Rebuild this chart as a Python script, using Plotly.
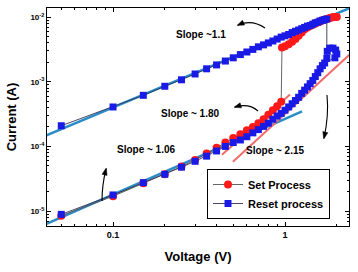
import numpy as np
import plotly.graph_objects as go

# ---------------- data ----------------
# Set process (red circles): voltage (V) and log10(current / A)
set_voltage = [0.05, 0.10, 0.15, 0.20, 0.25, 0.30, 0.35, 0.40, 0.45, 0.50,
               0.55, 0.60, 0.65, 0.70, 0.75, 0.80, 0.85, 0.90, 0.95,
               0.96, 1.00, 1.05, 1.10, 1.15, 1.20, 1.25, 1.30, 1.35, 1.40,
               1.45, 1.50, 1.55, 1.60, 1.65, 1.70, 1.75, 1.80, 1.85, 1.90,
               1.95, 2.00]
set_log_current = [-5.07, -4.77, -4.57, -4.43, -4.31, -4.21, -4.11, -4.02, -3.94, -3.87,
                   -3.81, -3.75, -3.70, -3.64, -3.58, -3.51, -3.44, -3.38, -3.31,
                   -2.47, -2.45, -2.42, -2.38, -2.34, -2.29, -2.24, -2.19, -2.16, -2.14,
                   -2.12, -2.10, -2.08, -2.07, -2.05, -2.04, -2.03, -2.02, -2.01, -2.00,
                   -2.00, -2.00]

# Reset process (blue squares)
reset_voltage = [0.05, 0.10, 0.15, 0.20, 0.25, 0.30, 0.35, 0.40, 0.45, 0.50,
                 0.55, 0.60, 0.65, 0.70, 0.75, 0.80, 0.85, 0.90, 0.95, 1.00,
                 1.05, 1.10, 1.15, 1.20, 1.25, 1.30, 1.35, 1.40, 1.45, 1.50,
                 1.55, 1.60, 1.65, 1.70, 1.75,
                 1.75, 1.76, 1.82, 1.90, 1.97, 2.00, 1.95,
                 1.70, 1.65, 1.60, 1.55, 1.50, 1.45, 1.40, 1.35, 1.30, 1.25,
                 1.20, 1.15, 1.10, 1.05, 1.00, 0.95, 0.90, 0.85, 0.80, 0.75,
                 0.70, 0.65, 0.60, 0.55, 0.50, 0.45, 0.40, 0.35, 0.30, 0.25,
                 0.20, 0.15, 0.10, 0.05]
reset_log_current = [-3.68, -3.39, -3.21, -3.07, -2.97, -2.88, -2.80, -2.74, -2.68, -2.63,
                     -2.58, -2.54, -2.50, -2.46, -2.43, -2.40, -2.37, -2.34, -2.31, -2.29,
                     -2.27, -2.24, -2.22, -2.20, -2.18, -2.16, -2.14, -2.13, -2.11, -2.09,
                     -2.08, -2.06, -2.05, -2.04, -2.03,
                     -2.64, -2.53, -2.48, -2.48, -2.51, -2.57, -2.63,
                     -2.71, -2.75, -2.80, -2.86, -2.92, -2.98, -3.03, -3.08, -3.13, -3.18,
                     -3.24, -3.29, -3.34, -3.39, -3.44, -3.49, -3.53, -3.58, -3.64, -3.69,
                     -3.74, -3.79, -3.85, -3.90, -3.94, -4.00, -4.07, -4.15, -4.23, -4.32,
                     -4.43, -4.56, -4.75, -5.05]

# Fitted power-law guide lines: start voltage, end voltage, log10(I) at start, slope as drawn
fit_names = ["upper", "lower", "set", "reset"]
fit_v_start = [0.040, 0.040, 0.430, 0.498]
fit_v_end = [2.70, 1.256, 1.069, 2.70]
fit_log_i_start = [-3.84, -5.21, -4.128, -4.236]
fit_slope = [1.115, 1.17, 2.35, 2.44]
fit_color = ["#2a8dc8", "#2a8dc8", "#f26a6a", "#f26a6a"]
fit_width = [2.6, 2.6, 2.0, 2.0]

x_ticks = [0.1, 1]
x_ticktext = ["0.1", "1"]
y_ticks = [1e-5, 1e-4, 1e-3, 1e-2]
y_ticktext = ["10<sup>-5</sup>", "10<sup>-4</sup>", "10<sup>-3</sup>", "10<sup>-2</sup>"]

# ---------------- figure ----------------
FONT = "Liberation Sans, Arial, sans-serif"
fig = go.Figure()

for i in range(len(fit_names)):
    v = np.array([fit_v_start[i], fit_v_end[i]])
    logi = fit_log_i_start[i] + fit_slope[i] * (np.log10(v) - np.log10(fit_v_start[i]))
    fig.add_trace(go.Scatter(x=v, y=np.power(10.0, logi), mode="lines",
                             line=dict(color=fit_color[i], width=fit_width[i]),
                             showlegend=False, hoverinfo="skip"))

fig.add_trace(go.Scatter(
    x=set_voltage, y=np.power(10.0, set_log_current), mode="lines+markers",
    name="Set Process",
    line=dict(color="#555555", width=0.9),
    marker=dict(symbol="circle", size=8, color="#ff1a1a", line=dict(width=0))))
fig.add_trace(go.Scatter(
    x=reset_voltage, y=np.power(10.0, reset_log_current), mode="lines+markers",
    name="Reset process",
    line=dict(color="#333355", width=0.9),
    marker=dict(symbol="square", size=7, color="#1a1ae6", line=dict(width=0))))

# plot area geometry in pixels (for annotation placement)
X0, X1, Y0, Y1 = 47, 349, 8, 226
def px(x):
    return (x - X0) / (X1 - X0)
def py(y):
    return (Y1 - y) / (Y1 - Y0)

labels = [("Slope ~1.1", 201, 27), ("Slope ~ 1.80", 190, 113),
          ("Slope ~ 1.06", 115, 157), ("Slope ~ 2.15", 307, 150)]
for t, x, y in labels:
    fig.add_annotation(text=t, x=px(x), y=py(y), xref="paper", yref="paper",
                       showarrow=False, font=dict(family=FONT, size=10, color="black", weight="bold"))

# curved pointer arrows: tail, control point, head (pixels)
arrows = [((265, 28), (252, 19), (238, 25)),
          ((258, 111), (249, 103), (235, 107)),
          ((102, 201), (102, 185), (106, 169)),
          ((327, 95), (329, 116), (324, 138))]
shapes = []
for (tx, ty), (cx, cy), (hx, hy) in arrows:
    shapes.append(dict(type="path", xref="paper", yref="paper",
                       path=f"M {px(tx)} {py(ty)} Q {px(cx)} {py(cy)} {px(hx)} {py(hy)}",
                       line=dict(color="black", width=1.1)))
    # arrowhead triangle oriented along control->head direction
    dx, dy = hx - cx, hy - cy
    n = (dx * dx + dy * dy) ** 0.5
    ux, uy = dx / n, dy / n
    L, W = 6.0, 2.6
    bx, by = hx - ux * L, hy - uy * L
    p1 = (bx - uy * W, by + ux * W)
    p2 = (bx + uy * W, by - ux * W)
    shapes.append(dict(type="path", xref="paper", yref="paper",
                       path=(f"M {px(hx + ux)} {py(hy + uy)} L {px(p1[0])} {py(p1[1])} "
                             f"L {px(p2[0])} {py(p2[1])} Z"),
                       fillcolor="black", line=dict(color="black", width=0.5)))

axis_common = dict(showline=True, linecolor="black", linewidth=1.2, mirror="ticks",
                   ticks="inside", ticklen=4, tickwidth=1, tickcolor="black",
                   showgrid=False, zeroline=False)

fig.update_xaxes(type="log", range=[-1.384, 0.372], tickvals=x_ticks, ticktext=x_ticktext,
                 tickfont=dict(family=FONT, size=9, color="black", weight="bold"),
                 minor=dict(ticks="inside", ticklen=2, tickcolor="black", showgrid=False,
                            tickvals=[0.05, 0.06, 0.07, 0.08, 0.09, 0.2, 0.3, 0.4, 0.5,
                                      0.6, 0.7, 0.8, 0.9, 2]),
                 title=dict(text="Voltage (V)", standoff=12,
                            font=dict(family=FONT, size=13, color="black", weight="bold")),
                 **axis_common)
fig.update_yaxes(type="log", range=[-5.23, -1.86], tickvals=y_ticks, ticktext=y_ticktext,
                 tickfont=dict(family=FONT, size=8, color="black", weight="bold"),
                 minor=dict(ticks="inside", ticklen=2, tickcolor="black", showgrid=False,
                            tickvals=[m * d for d in [1e-6, 1e-5, 1e-4, 1e-3, 1e-2]
                                      for m in range(2, 10)]),
                 title=dict(text="Current (A)", standoff=10,
                            font=dict(family=FONT, size=13, color="black", weight="bold")),
                 **axis_common)

fig.update_layout(
    width=358, height=272,
    margin=dict(l=X0, r=358 - X1, t=Y0, b=272 - Y1),
    plot_bgcolor="white", paper_bgcolor="white",
    font=dict(family=FONT, color="black"),
    shapes=shapes,
    legend=dict(x=px(207), y=py(169), xanchor="left", yanchor="top",
                bordercolor="black", borderwidth=1, bgcolor="white",
                font=dict(family=FONT, size=11, color="black", weight="bold"),
                tracegroupgap=0, itemsizing="trace"),
)

fig.write_html("out.html")
